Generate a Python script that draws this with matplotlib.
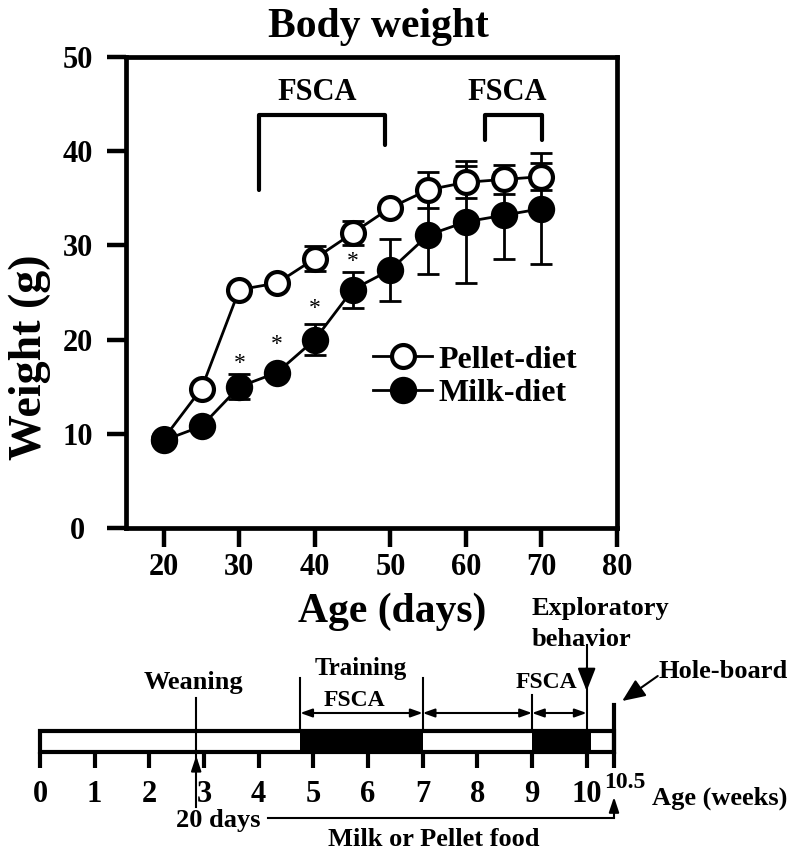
import matplotlib
matplotlib.use("Agg")
import matplotlib.pyplot as plt
from matplotlib.patches import Rectangle
import numpy as np

plt.rcParams['font.family'] = ['Liberation Serif', 'DejaVu Serif']
plt.rcParams['font.weight'] = 'bold'

# ---------------- data ----------------
age_days = [20, 25, 30, 35, 40, 45, 50, 55, 60, 65, 70]
pellet_mean = [9.5, 14.8, 25.3, 26.0, 28.6, 31.3, 34.0, 35.9, 36.7, 37.0, 37.3]
pellet_err = [0.5, 0.6, 0.5, 0.5, 1.35, 1.3, 0.6, 1.9, 1.7, 1.5, 1.4]
milk_mean = [9.3, 10.8, 15.0, 16.5, 20.0, 25.3, 27.4, 31.1, 32.5, 33.2, 33.9]
milk_err = [0.5, 0.6, 1.35, 0.6, 1.65, 1.9, 3.25, 4.1, 6.5, 4.6, 5.9]
star_days = [30, 35, 40, 45]
star_y = [17.5, 19.5, 23.3, 28.3]

x_ticks = [20, 30, 40, 50, 60, 70, 80]
y_ticks = [0, 10, 20, 30, 40, 50]

# FSCA brackets (days, weight units)
bracket1_x = [32.6, 32.6, 49.3, 49.3]
bracket1_y = [35.9, 43.8, 43.8, 40.7]
bracket2_x = [62.5, 62.5, 70.1, 70.1]
bracket2_y = [41.2, 43.8, 43.8, 41.2]
bracket_label_x = [40.3, 65.4]
bracket_label_y = 46.2

# timeline (weeks)
week_ticks = [0, 1, 2, 3, 4, 5, 6, 7, 8, 9, 10, 10.5]
week_labels = ['0', '1', '2', '3', '4', '5', '6', '7', '8', '9', '10', '10.5']
timeline_end = 10.5
weaning_week = 20 / 7
phase_fill = [(4.76, 7.0), (9.0, 10.08)]
phase_arrows = [(4.76, 7.0), (7.0, 9.0), (9.0, 10.0)]
exploratory_week = 10.0

# ---------------- figure ----------------
W, H = 794, 858
fig = plt.figure(figsize=(W / 100, H / 100), dpi=100)

def fx(px):
    return px / W

def fy(py):
    return 1 - py / H

ax = fig.add_axes([fx(126), fy(528), (617 - 126) / W, (528 - 57) / H])
ax.set_xlim(15, 80)
ax.set_ylim(0, 50)
for s in ax.spines.values():
    s.set_linewidth(3.4)
ax.set_xticks(x_ticks)
ax.set_yticks(y_ticks)
ax.tick_params(direction='out', length=13.7, width=3.2, labelsize=22)
ax.tick_params(axis='x', pad=4)
ax.tick_params(axis='y', pad=21)
for lbl in ax.get_yticklabels():
    lbl.set_horizontalalignment('center')
for lbl in ax.get_xticklabels() + ax.get_yticklabels():
    lbl.set_fontweight('bold')

# milk error bars (below pellet)
ax.errorbar(age_days, milk_mean, yerr=milk_err, fmt='none', ecolor='black',
            elinewidth=2, capsize=8, capthick=2, zorder=2)
# pellet series
ax.errorbar(age_days, pellet_mean, yerr=pellet_err, fmt='none', ecolor='black',
            elinewidth=2, capsize=8, capthick=2, zorder=3)
ax.plot(age_days, pellet_mean, '-o', color='black', lw=2, ms=16.5,
        mfc='white', mec='black', mew=3, zorder=4, label='Pellet-diet')
# milk series
ax.plot(age_days, milk_mean, '-o', color='black', lw=2, ms=18.5,
        mfc='black', mec='black', mew=1.2, zorder=5, label='Milk-diet')

for d, yv in zip(star_days, star_y):
    ax.text(d, yv, '*', ha='center', va='center', fontsize=17,
            fontweight='normal', zorder=6)

ax.plot(bracket1_x, bracket1_y, color='black', lw=3, solid_capstyle='round')
ax.plot(bracket2_x, bracket2_y, color='black', lw=3, solid_capstyle='round')
for bx in bracket_label_x:
    ax.text(bx, bracket_label_y, 'FSCA', ha='center', va='center', fontsize=22,
            fontweight='bold')

leg = ax.legend(loc='upper left', bbox_to_anchor=(0.503, 0.388), frameon=False,
                fontsize=23, handlelength=1.85, handletextpad=0.2,
                labelspacing=0.13, borderaxespad=0, borderpad=0)
for t in leg.get_texts():
    t.set_fontweight('bold')

fig.text(fx(378), fy(27), 'Body weight', ha='center', va='center',
         fontsize=30, fontweight='bold')
fig.text(fx(392), fy(612), 'Age (days)', ha='center', va='center',
         fontsize=30, fontweight='bold')
fig.text(fx(30), fy(357), 'Weight (g)', ha='center', va='center',
         rotation=90, fontsize=33, fontweight='bold')

# ---------------- timeline ----------------
tl = fig.add_axes([fx(40), fy(858), (614 - 40) / W, (858 - 590) / H])
tl.set_xlim(0, timeline_end)
tl.set_ylim(858, 590)
tl.axis('off')

bar_top, bar_bot = 731, 752
for a, b in phase_fill:
    tl.add_patch(Rectangle((a, bar_top), b - a, bar_bot - bar_top,
                           facecolor='black', edgecolor='none', zorder=2))
tl.add_patch(Rectangle((0, bar_top), timeline_end, bar_bot - bar_top,
                       facecolor='none', edgecolor='black', lw=3, zorder=3,
                       clip_on=False))
for w in week_ticks:
    tl.plot([w, w], [bar_bot, 768], color='black', lw=3,
            solid_capstyle='butt', clip_on=False)
for w, lab in zip(week_ticks[:-1], week_labels[:-1]):
    tl.text(w, 794, lab, ha='center', va='center', fontsize=22,
            fontweight='bold', clip_on=False)
tl.text(week_ticks[-1] + 0.2, 783, week_labels[-1], ha='center', va='center',
        fontsize=17, fontweight='bold', clip_on=False)
tl.text(12.44, 798, 'Age (weeks)', ha='center', va='center', fontsize=19,
        fontweight='bold', clip_on=False)

# weaning
tl.plot([weaning_week, weaning_week], [698, 807], color='black', lw=1.5, zorder=4)
tl.annotate('', xy=(weaning_week, 753), xytext=(weaning_week, 772),
            arrowprops=dict(arrowstyle='-|>,head_length=0.9,head_width=0.3',
                            color='black', lw=1.5), zorder=4)
tl.text(2.8, 683, 'Weaning', ha='center', va='center', fontsize=19,
        fontweight='bold')

# phase boundary lines
tl.plot([phase_arrows[0][0]] * 2, [678, bar_top], color='black', lw=1.5)
tl.plot([phase_arrows[1][0]] * 2, [678, bar_top], color='black', lw=1.5)
tl.plot([phase_arrows[2][0]] * 2, [695, bar_top], color='black', lw=1.5)
tl.plot([exploratory_week] * 2, [645, bar_top], color='black', lw=1.5)
tl.plot([timeline_end] * 2, [705, bar_bot], color='black', lw=3, clip_on=False)
tl.annotate('', xy=(exploratory_week, 691), xytext=(exploratory_week, 668),
            arrowprops=dict(arrowstyle='-|>,head_length=1.4,head_width=0.55',
                            color='black', lw=1.5, shrinkA=0, shrinkB=0))
for a, b in phase_arrows:
    tl.annotate('', xy=(b, 713), xytext=(a, 713),
                arrowprops=dict(arrowstyle='<|-|>,head_length=0.7,head_width=0.25',
                                color='black', lw=1.5, shrinkA=0, shrinkB=0))

tl.text(5.87, 668, 'Training', ha='center', va='center', fontsize=18,
        fontweight='bold')
tl.text(5.76, 700, 'FSCA', ha='center', va='center', fontsize=17,
        fontweight='bold')
tl.text(9.27, 682, 'FSCA', ha='center', va='center', fontsize=17,
        fontweight='bold')
tl.text(10.26, 608, 'Exploratory', ha='center', va='center', fontsize=19,
        fontweight='bold', clip_on=False)
tl.text(9.91, 640, 'behavior', ha='center', va='center', fontsize=19,
        fontweight='bold', clip_on=False)

# hole-board
tl.text(11.32, 672, 'Hole-board', ha='left', va='center', fontsize=19,
        fontweight='bold', clip_on=False)
tl.annotate('', xy=(10.65, 701), xytext=(11.3, 676),
            arrowprops=dict(arrowstyle='-|>,head_length=1.4,head_width=0.6',
                            color='black', lw=1.5, shrinkA=0, shrinkB=0),
            annotation_clip=False)

# diet period
tl.text(3.26, 821, '20 days', ha='center', va='center', fontsize=19,
        fontweight='bold')
tl.plot([4.17, timeline_end], [818, 818], color='black', lw=1.5, clip_on=False)
tl.annotate('', xy=(timeline_end, 797), xytext=(timeline_end, 818),
            arrowprops=dict(arrowstyle='-|>,head_length=0.9,head_width=0.3',
                            color='black', lw=1.5, shrinkA=0, shrinkB=0),
            annotation_clip=False)
tl.text(7.21, 840, 'Milk or Pellet food', ha='center', va='center', fontsize=19,
        fontweight='bold')

fig.savefig('out.png', dpi=100)
